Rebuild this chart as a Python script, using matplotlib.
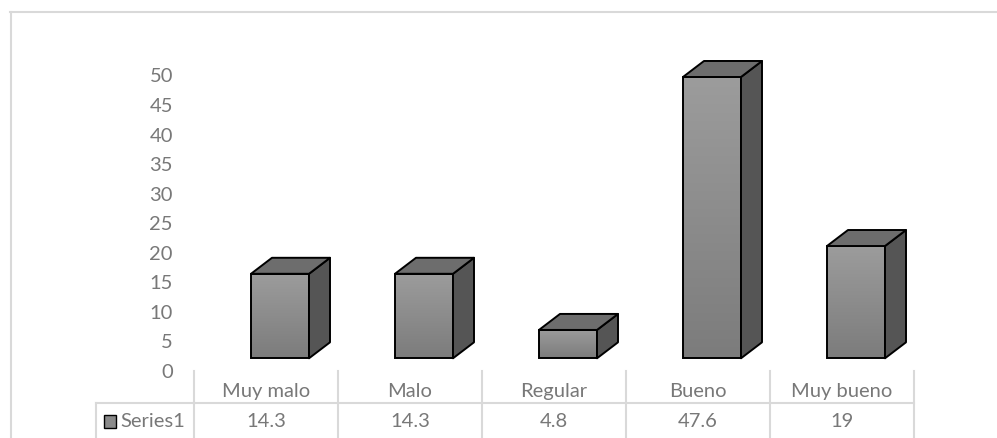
# Excel-style 3D column chart with a data table underneath

import matplotlib.pyplot as plt
import matplotlib.transforms as mtransforms
import numpy as np
from matplotlib.colors import LinearSegmentedColormap
from matplotlib.lines import Line2D
from matplotlib.patches import Polygon, Rectangle

# Data
categories = ['Muy malo', 'Malo', 'Regular', 'Bueno', 'Muy bueno']
values = [14.3, 14.3, 4.8, 47.6, 19]
value_labels = ['14.3', '14.3', '4.8', '47.6', '19']
series_name = 'Series1'
y_ticks = list(range(0, 51, 5))

plt.rcParams['font.family'] = ['Lato', 'DejaVu Sans']
TEXT = '#787878'
GRID = '#d9d9d9'
FS = 14.5

W, H, DPI = 997, 439, 100
fig = plt.figure(figsize=(W / DPI, H / DPI), dpi=DPI)

# layout in pixels
ax_left = 181
col0, pitch = 266, 144       # centre of first column, column width
zero_y, px_unit = 68, 5.91   # y of value 0 (from bottom), px per unit

ax = fig.add_axes([ax_left / W, 0, 1 - ax_left / W, 1])
ax.set_xlim((ax_left - col0) / pitch, (W - col0) / pitch)
ax.set_ylim(-zero_y / px_unit, (H - zero_y) / px_unit)
ax.patch.set_visible(False)
for s in ax.spines.values():
    s.set_visible(False)
ax.set_xticks([])
ax.set_yticks(y_ticks)
ax.tick_params(axis='y', length=0, pad=5.8, labelsize=FS, labelcolor=TEXT)

# pixel offsets of the fake 3D projection, converted to data units
sx = ax.transData.transform((1, 0))[0] - ax.transData.transform((0, 0))[0]
sy = ax.transData.transform((0, 1))[1] - ax.transData.transform((0, 0))[1]
fx, fy = 14 / sx, 11.7 / sy
ddx, ddy = 21 / sx, 16 / sy
hw = 29 / sx

front_cmap = LinearSegmentedColormap.from_list('front', ['#7c7c7c', '#9c9c9c'])
grad = np.linspace(0, 1, 100).reshape(-1, 1)

for i, v in enumerate(values):
    left, right = i - hw + fx, i + hw + fx
    base, top = fy, fy + v
    ax.imshow(grad, extent=(left, right, base, top), origin='lower',
              cmap=front_cmap, aspect='auto', zorder=2)
    ax.add_patch(Rectangle((left, base), right - left, top - base, fill=False,
                           ec='black', lw=1.4, zorder=3))
    side = [(right, base), (right + ddx, base + ddy),
            (right + ddx, top + ddy), (right, top)]
    ax.add_patch(Polygon(side, closed=True, fc='#555555', ec='black',
                         lw=1.4, joinstyle='round', zorder=3))
    topf = [(left, top), (right, top), (right + ddx, top + ddy),
            (left + ddx, top + ddy)]
    ax.add_patch(Polygon(topf, closed=True, fc='#6d6d6d', ec='black',
                         lw=1.4, joinstyle='round', zorder=3))

# reset limits (imshow may change them)
ax.set_xlim((ax_left - col0) / pitch, (W - col0) / pitch)
ax.set_ylim(-zero_y / px_unit, (H - zero_y) / px_unit)

# data table
bt = mtransforms.blended_transform_factory(ax.transData, fig.transFigure)
y_head_top = 1 - 372 / H
y_sep = 1 - 404 / H
y_cat = 1 - 392 / H
y_val = 1 - 422 / H

n = len(categories)
for k in range(n + 1):
    ax.add_line(Line2D([k - 0.5, k - 0.5], [y_head_top, 0], transform=bt,
                       color=GRID, lw=1.5, clip_on=False))
ax.add_line(Line2D([-0.5, n - 0.5], [y_sep, y_sep], transform=bt,
                   color=GRID, lw=1.5, clip_on=False))
for i, (c, lab) in enumerate(zip(categories, value_labels)):
    ax.text(i, y_cat, c, transform=bt, ha='center', va='center',
            fontsize=FS, color=TEXT)
    ax.text(i, y_val, lab, transform=bt, ha='center', va='center',
            fontsize=FS, color=TEXT)

# series cell with legend key
cell_right = (ax_left + (-0.5 - (ax_left - col0) / pitch) * pitch) / W
fig.add_artist(Line2D([96 / W, cell_right], [y_sep, y_sep], color=GRID, lw=1.5))
fig.add_artist(Line2D([96 / W, 96 / W], [y_sep, 0], color=GRID, lw=1.5))
fig.add_artist(Rectangle((104 / W, 1 - 429 / H), 12 / W, 13 / H,
                         transform=fig.transFigure, fc='#8a8a8a', ec='black', lw=1))
fig.text(120 / W, y_val, series_name, ha='left', va='center',
         fontsize=FS, color=TEXT)

# outer chart frame
fig.add_artist(Line2D([10.5 / W, 10.5 / W], [0, 1 - 13 / H], color=GRID, lw=1.5))
fig.add_artist(Line2D([10 / W, 1], [1 - 13 / H, 1 - 13 / H], color=GRID, lw=1.5))

fig.savefig('out.png', dpi=DPI)
